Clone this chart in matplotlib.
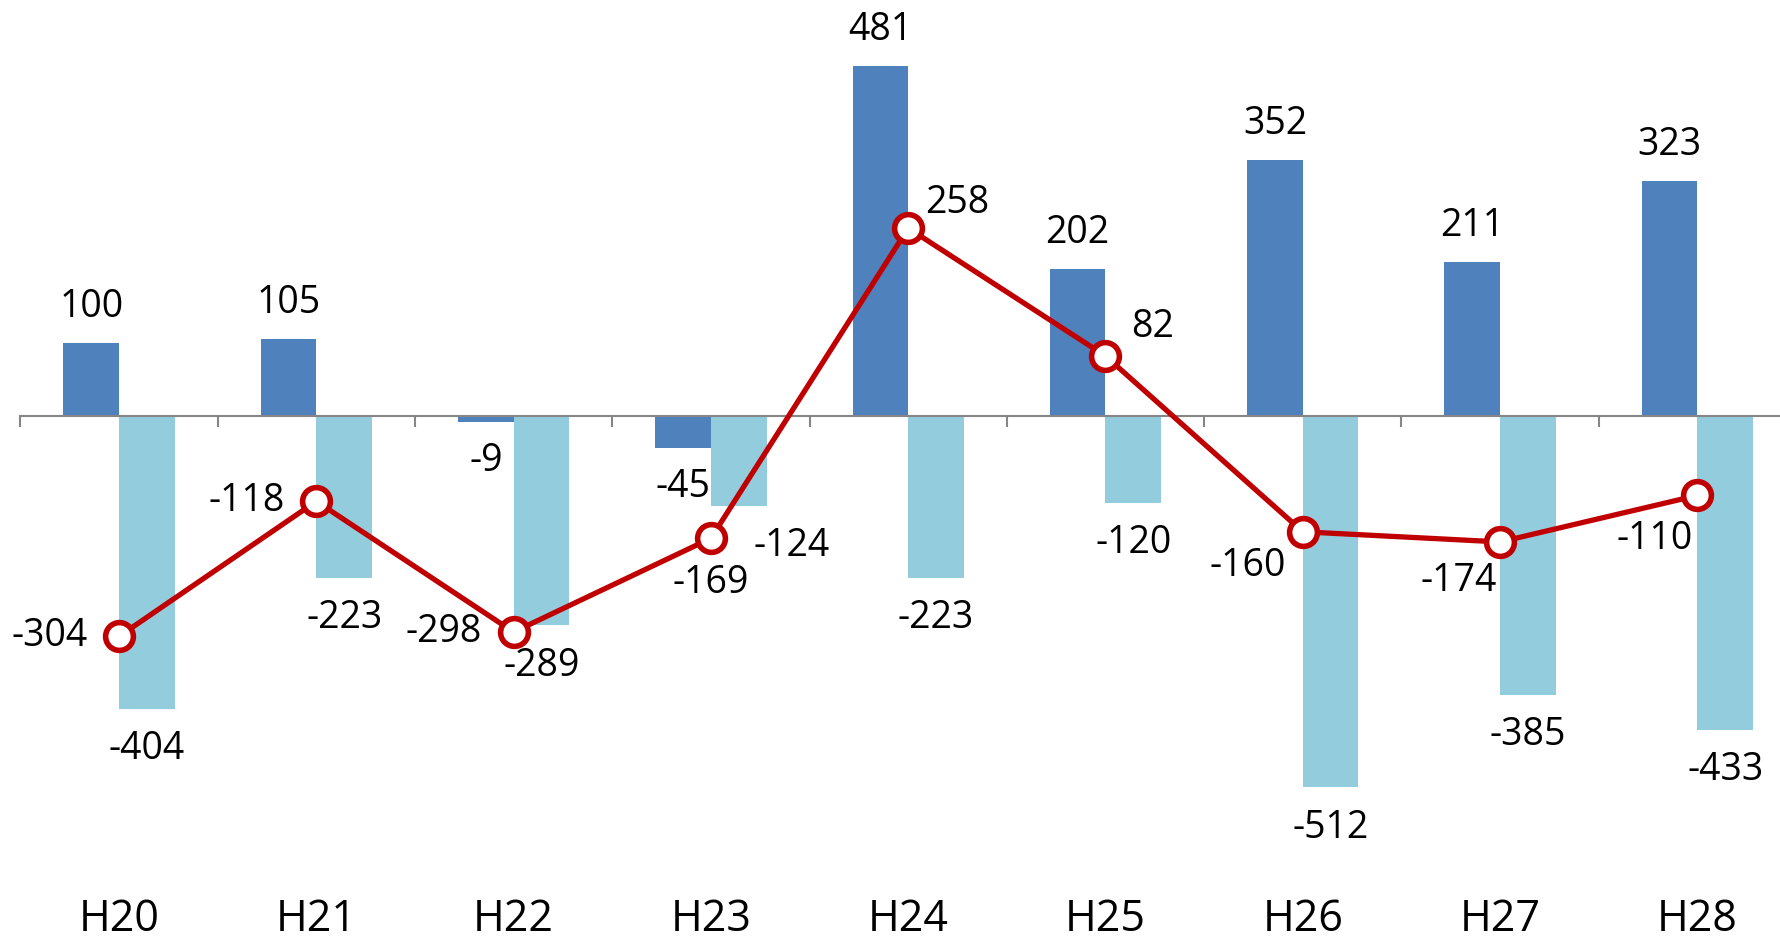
import matplotlib
matplotlib.use("Agg")
import matplotlib.pyplot as plt
from matplotlib.ticker import FixedLocator, NullLocator

plt.rcParams['font.family'] = ['Open Sans', 'DejaVu Sans']

categories = ['H20', 'H21', 'H22', 'H23', 'H24', 'H25', 'H26', 'H27', 'H28']
series_a = [100, 105, -9, -45, 481, 202, 352, 211, 323]          # dark blue bars
series_b = [-404, -223, -289, -124, -223, -120, -512, -385, -433]  # light blue bars
series_total = [-304, -118, -298, -169, 258, 82, -160, -174, -110]  # red line

# label offsets (points) for the line values, placed by hand like in the original sheet
line_label_offsets = [(-50, 0), (-50, 0), (-50, 0), (0, -32), (35, 18),
                      (34, 21), (-40, -25), (-30, -28), (-31, -31)]
# offsets for light bar labels (one was nudged right)
b_label_dx = [0, 0, 0, 38, 0, 0, 0, 0, 0]

dark_blue = '#4F81BD'
light_blue = '#93CDDD'
red = '#C00000'
axis_gray = '#868686'

fig = plt.figure(figsize=(17.8, 9.42), dpi=100)
ax = fig.add_axes([20.4 / 1780, 0, 1775.6 / 1780, 1])

x = list(range(len(categories)))
w = 0.282
ax.bar([i - w / 2 for i in x], series_a, width=w, color=dark_blue, zorder=2)
ax.bar([i + w / 2 for i in x], series_b, width=w, color=light_blue, zorder=2)

ax.plot(x, series_total, color=red, lw=3.8, marker='o', markersize=20,
        markerfacecolor='white', markeredgecolor=red, markeredgewidth=4, zorder=4)

ax.set_xlim(-0.5, 8.5)
ax.set_ylim(-724.7, 572)

for s in ['top', 'right', 'left']:
    ax.spines[s].set_visible(False)
ax.spines['bottom'].set_position(('data', 0))
ax.spines['bottom'].set_color(axis_gray)
ax.spines['bottom'].set_linewidth(1.5)
ax.yaxis.set_major_locator(NullLocator())
ax.xaxis.set_major_locator(NullLocator())
ax.xaxis.set_minor_locator(FixedLocator([i - 0.5 for i in range(len(categories) + 1)]))
ax.tick_params(axis='x', which='minor', direction='out', length=8, width=1.5, color=axis_gray)

fs = 27
for i, v in enumerate(series_a):
    dy = 26 if v >= 0 else -28
    ax.annotate(str(v), (i - w / 2, v), xytext=(0, dy), textcoords='offset points',
                ha='center', va='center', fontsize=fs, zorder=5)
for i, v in enumerate(series_b):
    ax.annotate(str(v), (i + w / 2, v), xytext=(b_label_dx[i], -29), textcoords='offset points',
                ha='center', va='center', fontsize=fs, zorder=5)
for i, v in enumerate(series_total):
    dx, dy = line_label_offsets[i]
    ax.annotate(str(v), (i, v), xytext=(dx, dy), textcoords='offset points',
                ha='center', va='center', fontsize=fs, zorder=5)

for i, c in enumerate(categories):
    ax.text(i, 0.024, c, transform=ax.get_xaxis_transform(), ha='center', va='center',
            fontsize=31)

fig.savefig('out.png', dpi=100)
